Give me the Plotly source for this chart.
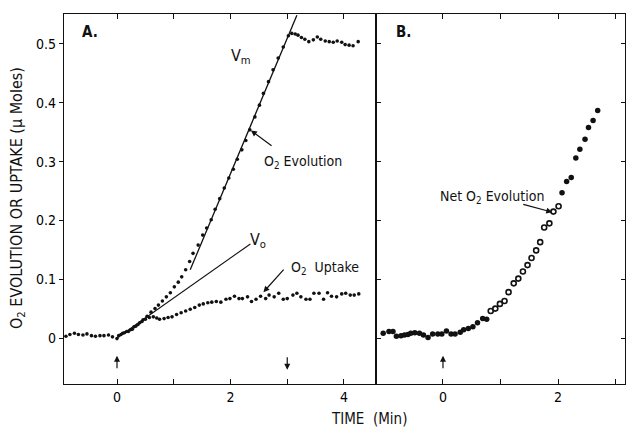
import plotly.graph_objects as go

# ---- Panel A data ----
evo_x = [-0.90, -0.83, -0.75, -0.68, -0.60, -0.53, -0.45, -0.38, -0.30, -0.23, -0.15, -0.08, 0.00,
         0.07, 0.13, 0.20, 0.27, 0.33, 0.40, 0.46, 0.53, 0.60, 0.67, 0.73, 0.80, 0.87, 0.94,
         1.01, 1.08, 1.14, 1.21, 1.28, 1.34, 1.43, 1.51, 1.58, 1.66, 1.73, 1.81, 1.89, 1.97,
         2.05, 2.12, 2.20, 2.27, 2.34, 2.43, 2.51, 2.58, 2.67, 2.75, 2.84, 2.93, 3.02,
         3.08, 3.14, 3.19, 3.25, 3.31, 3.38, 3.46, 3.53, 3.59, 3.67, 3.74, 3.81, 3.88, 3.96,
         4.02, 4.09, 4.16, 4.25]
evo_y = [0.003, 0.006, 0.008, 0.006, 0.005, 0.007, 0.004, 0.003, 0.004, 0.004, 0.005, 0.002, -0.001,
         0.006, 0.009, 0.011, 0.015, 0.020, 0.026, 0.031, 0.037, 0.044, 0.050, 0.056, 0.063, 0.070, 0.077,
         0.087, 0.095, 0.104, 0.116, 0.130, 0.144, 0.158, 0.175, 0.187, 0.201, 0.219, 0.237, 0.255, 0.272,
         0.287, 0.304, 0.320, 0.336, 0.354, 0.376, 0.396, 0.416, 0.436, 0.456, 0.476, 0.495, 0.514,
         0.518, 0.517, 0.515, 0.511, 0.508, 0.504, 0.507, 0.512, 0.508, 0.505, 0.504, 0.503, 0.505, 0.503,
         0.499, 0.498, 0.497, 0.504]

upt_x = [0.03, 0.10, 0.17, 0.24, 0.30, 0.37, 0.44, 0.50, 0.57, 0.64, 0.70, 0.75, 0.83, 0.90, 0.97,
         1.05, 1.13, 1.21, 1.29, 1.37, 1.45, 1.52, 1.60, 1.67, 1.75, 1.83, 1.92, 1.99, 2.07, 2.15,
         2.21, 2.30, 2.37, 2.45, 2.53, 2.62, 2.68, 2.77, 2.85, 2.93, 3.00, 3.10, 3.17, 3.24, 3.33,
         3.40, 3.47, 3.56, 3.64, 3.71, 3.78, 3.87, 3.96, 4.03, 4.11, 4.18, 4.26]
upt_y = [0.004, 0.008, 0.011, 0.014, 0.019, 0.023, 0.028, 0.032, 0.035, 0.036, 0.034, 0.032, 0.033, 0.035, 0.036,
         0.040, 0.043, 0.046, 0.049, 0.052, 0.056, 0.058, 0.060, 0.061, 0.062, 0.061, 0.066, 0.067, 0.071, 0.067,
         0.067, 0.070, 0.062, 0.066, 0.071, 0.067, 0.073, 0.070, 0.076, 0.066, 0.067, 0.073, 0.076, 0.070, 0.066,
         0.066, 0.076, 0.076, 0.066, 0.077, 0.071, 0.070, 0.075, 0.076, 0.073, 0.073, 0.075]

vm_x = [1.29, 3.17]
vm_y = [0.116, 0.549]
vo_x = [0.00, 2.35]
vo_y = [0.000, 0.160]

# ---- Panel B data ----
net_fill_x = [-1.04, -0.94, -0.87, -0.81, -0.73, -0.67, -0.61, -0.56, -0.49, -0.41, -0.34, -0.26,
              -0.18, -0.09, -0.02, 0.06, 0.14, 0.21, 0.30, 0.36, 0.44, 0.52, 0.60, 0.69, 0.76,
              2.07, 2.15, 2.23, 2.31, 2.38, 2.47, 2.53, 2.61, 2.69]
net_fill_y = [0.008, 0.011, 0.011, 0.003, 0.004, 0.005, 0.006, 0.008, 0.009, 0.008, 0.005, 0.001,
              0.007, 0.007, 0.007, 0.012, 0.007, 0.007, 0.010, 0.014, 0.016, 0.019, 0.026, 0.033, 0.032,
              0.247, 0.266, 0.273, 0.306, 0.321, 0.338, 0.358, 0.370, 0.387]
net_open_x = [0.83, 0.91, 0.99, 1.07, 1.14, 1.23, 1.31, 1.39, 1.47, 1.54, 1.62, 1.69, 1.76, 1.85, 1.92, 2.01]
net_open_y = [0.046, 0.050, 0.058, 0.063, 0.078, 0.093, 0.101, 0.113, 0.124, 0.136, 0.149, 0.163,
              0.188, 0.195, 0.215, 0.224]

y_ticks = [0, 0.1, 0.2, 0.3, 0.4, 0.5]
y_tick_text = ["0", "0.1", "0.2", "0.3", "0.4", "0.5"]
xa_ticks = [0, 1, 2, 3, 4]
xa_tick_text = ["0", "", "2", "", "4"]
xb_ticks = [0, 1, 2, 3]
xb_tick_text = ["0", "", "2", ""]

FONT = "DejaVu Sans Condensed, DejaVu Sans, sans-serif"
BLK = "#111111"

fig = go.Figure()
fig.add_trace(go.Scatter(x=evo_x, y=evo_y, mode="markers", marker=dict(size=3.6, color=BLK),
                         xaxis="x", yaxis="y", showlegend=False))
fig.add_trace(go.Scatter(x=upt_x, y=upt_y, mode="markers", marker=dict(size=3.6, color=BLK),
                         xaxis="x", yaxis="y", showlegend=False))
fig.add_trace(go.Scatter(x=vm_x, y=vm_y, mode="lines", line=dict(color=BLK, width=1.3),
                         xaxis="x", yaxis="y", showlegend=False))
fig.add_trace(go.Scatter(x=vo_x, y=vo_y, mode="lines", line=dict(color=BLK, width=1.1),
                         xaxis="x", yaxis="y", showlegend=False))
fig.add_trace(go.Scatter(x=net_fill_x, y=net_fill_y, mode="markers", marker=dict(size=5.5, color=BLK),
                         xaxis="x2", yaxis="y2", showlegend=False))
fig.add_trace(go.Scatter(x=net_open_x, y=net_open_y, mode="markers",
                         marker=dict(size=5, color="white", line=dict(color=BLK, width=1.6)),
                         xaxis="x2", yaxis="y2", showlegend=False))

yr = [-0.0782, 0.551]
axis_common = dict(showgrid=False, zeroline=False, showline=True, linecolor=BLK, linewidth=1.3,
                   mirror="allticks", tickcolor=BLK, tickwidth=1.2,
                   tickfont=dict(family=FONT, size=14, color="#000000"))
fig.update_layout(
    width=628, height=429, margin=dict(l=0, r=0, t=0, b=0),
    paper_bgcolor="white", plot_bgcolor="white",
    font=dict(family=FONT, color=BLK),
    xaxis=dict(domain=[64/628, 376/628], range=[-0.934, 4.564], tickvals=xa_ticks, ticktext=xa_tick_text,
               ticks="inside", ticklen=5, anchor="y", **axis_common),
    yaxis=dict(domain=[1-384/429, 1-14/429], range=yr, tickvals=y_ticks, ticktext=y_tick_text,
               ticks="outside", ticklen=4, anchor="x", **axis_common),
    xaxis2=dict(domain=[376/628, 625/628], range=[-1.165, 3.165], tickvals=xb_ticks, ticktext=xb_tick_text,
                ticks="inside", ticklen=5, anchor="y2", **axis_common),
    yaxis2=dict(domain=[1-384/429, 1-14/429], range=yr, tickvals=y_ticks, showticklabels=False,
                ticks="inside", ticklen=4, anchor="x2", **axis_common),
)

ann = []
def txt(x, y, s, xr="x", yr_="y", size=14, bold=False, xanchor="center"):
    ann.append(dict(x=x, y=y, xref=xr, yref=yr_, text=("<b>%s</b>" % s) if bold else s, showarrow=False,
                    font=dict(family=FONT, size=size, color=BLK), xanchor=xanchor, yanchor="middle"))

txt(-0.47, 0.52, "A.", bold=True, size=15)
txt(-0.68, 0.52, "B.", xr="x2", yr_="y2", bold=True, size=15)
txt(2.19, 0.478, "V<sub>m</sub>", size=16)
txt(2.49, 0.165, "V<sub>o</sub>", size=16)
txt(2.56, 0.300, "O<sub>2</sub> Evolution", size=14, xanchor="left")
txt(3.03, 0.119, "O<sub>2</sub>  Uptake", size=14, xanchor="left")
txt(0.85, 0.240, "Net O<sub>2</sub> Evolution", xr="x2", yr_="y2", size=14)

def arrow(x, y, axv, ayv, xr="x", yr_="y", head=2, w=1.2):
    ann.append(dict(x=x, y=y, ax=axv, ay=ayv, xref=xr, yref=yr_, axref=xr, ayref=yr_, text="",
                    showarrow=True, arrowhead=head, arrowsize=1, arrowwidth=w, arrowcolor=BLK))

arrow(2.36, 0.353, 2.75, 0.325)
arrow(2.58, 0.078, 2.96, 0.119)
arrow(1.90, 0.214, 1.37, 0.228, xr="x2", yr_="y2")
arrow(0, -0.030, 0, -0.054)
arrow(3, -0.054, 3, -0.030)
arrow(0, -0.030, 0, -0.054, xr="x2", yr_="y2")

ann.append(dict(x=369/628, y=1-419/429, xref="paper", yref="paper", text="TIME  (Min)", showarrow=False,
                font=dict(family=FONT, size=15, color=BLK), xanchor="center", yanchor="middle"))
ann.append(dict(x=17/628, y=1-198/429, xref="paper", yref="paper",
                text="O<sub>2</sub> EVOLUTION OR UPTAKE (\u03bc Moles)", textangle=-90, showarrow=False,
                font=dict(family=FONT, size=16, color=BLK), xanchor="center", yanchor="middle"))
fig.update_layout(annotations=ann)

fig.write_html("out.html", config={"displayModeBar": False},
               post_script="document.body.style.margin='0px';document.body.style.padding='0px';")
